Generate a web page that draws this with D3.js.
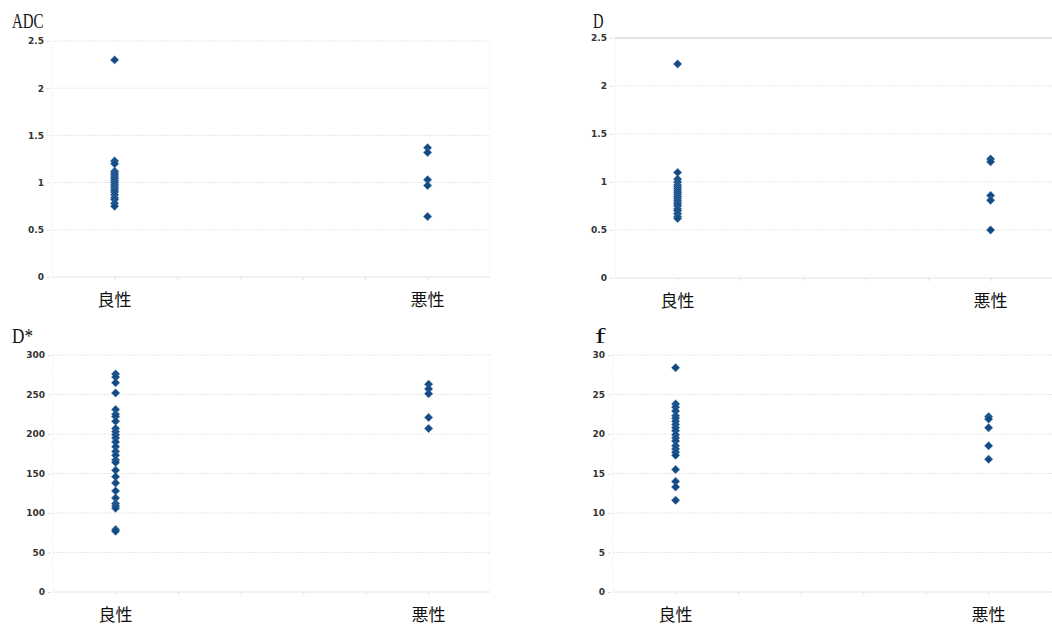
<!DOCTYPE html>
<html>
<head>
<meta charset="utf-8">
<script src="https://cdn.jsdelivr.net/npm/d3@7"></script>
<style>
  html, body { margin: 0; padding: 0; background: #ffffff; }
  svg { display: block; }
</style>
</head>
<body>
<svg id="chart" width="1052" height="627"></svg>
<script>
// ---- data ----
const categories = ["良性", "悪性"];
const panelTitles = ["ADC", "D", "D*", "f"];

const adcBenign = [2.30, 1.23, 1.20, 1.12, 1.10, 1.08, 1.06, 1.04, 1.02, 1.00, 0.98, 0.96, 0.94, 0.92, 0.90, 0.87, 0.84, 0.82, 0.78, 0.75];
const adcMalignant = [1.37, 1.32, 1.03, 0.97, 0.64];

const dBenign = [2.23, 1.10, 1.03, 1.00, 0.97, 0.95, 0.93, 0.91, 0.89, 0.87, 0.85, 0.83, 0.81, 0.79, 0.77, 0.75, 0.72, 0.70, 0.67, 0.64, 0.62];
const dMalignant = [1.24, 1.21, 0.86, 0.81, 0.50];

const dStarBenign = [276, 272, 265, 252, 231, 225, 222, 216, 207, 203, 199, 195, 190, 184, 178, 173, 167, 164, 154, 146, 138, 128, 119, 112, 109, 106, 79, 77];
const dStarMalignant = [263, 257, 251, 221, 207];

const fBenign = [28.4, 23.8, 23.4, 22.9, 22.3, 22.0, 21.6, 21.2, 20.8, 20.4, 19.9, 19.5, 19.1, 18.5, 18.1, 17.7, 17.3, 15.5, 14.0, 13.3, 11.6];
const fMalignant = [22.2, 21.9, 20.8, 18.5, 16.8];

const adcTicks = [0, 0.5, 1, 1.5, 2, 2.5];
const dTicks = [0, 0.5, 1, 1.5, 2, 2.5];
const dStarTicks = [0, 50, 100, 150, 200, 250, 300];
const fTicks = [0, 5, 10, 15, 20, 25, 30];

// category positions on a 0..7 numeric x axis
const categoryX = [1, 6];
const xTicks = [1, 2, 3, 4, 5, 6];

// ---- layout ----
const panels = [
  { title: panelTitles[0], series: [adcBenign, adcMalignant], ticks: adcTicks, yMax: 2.5,
    x0: 52, x1: 490, y0: 41, y1: 277, titleX: 12, titleY: 28, topSolid: false },
  { title: panelTitles[1], series: [dBenign, dMalignant], ticks: dTicks, yMax: 2.5,
    x0: 615, x1: 1055, y0: 38, y1: 278, titleX: 593, titleY: 28, topSolid: true },
  { title: panelTitles[2], series: [dStarBenign, dStarMalignant], ticks: dStarTicks, yMax: 300,
    x0: 53, x1: 490, y0: 355, y1: 592, titleX: 12, titleY: 343, topSolid: false },
  { title: panelTitles[3], series: [fBenign, fMalignant], ticks: fTicks, yMax: 30,
    x0: 613, x1: 1053, y0: 355, y1: 592, titleX: 595, titleY: 343, topSolid: false }
];

const svg = d3.select("#chart");
const markColor = "#134a84";
const diamond = d3.symbol().type(d3.symbolSquare).size(36);

panels.forEach(p => {
  const g = svg.append("g");
  const x = d3.scaleLinear().domain([0, 7]).range([p.x0, p.x0 + 7 * 62.6]);
  const y = d3.scaleLinear().domain([0, p.yMax]).range([p.y1, p.y0]);

  // gridlines
  g.append("g").selectAll("line").data(p.ticks).join("line")
    .attr("x1", p.x0).attr("x2", p.x1)
    .attr("y1", d => y(d)).attr("y2", d => y(d))
    .attr("stroke", d => (p.topSolid && d === p.yMax) ? "#e2e2e2" : "#e8e8e8")
    .attr("stroke-width", d => (p.topSolid && d === p.yMax) ? 2 : 1)
    .attr("stroke-dasharray", d => (p.topSolid && d === p.yMax) ? null : "2,1");

  // plot border (faint dotted verticals)
  g.append("line").attr("x1", p.x0).attr("x2", p.x0).attr("y1", p.y0).attr("y2", p.y1)
    .attr("stroke", "#e8e8e8").attr("stroke-dasharray", "1,2");
  if (p.x1 < 1050) {
    g.append("line").attr("x1", p.x1).attr("x2", p.x1).attr("y1", p.y0).attr("y2", p.y1)
      .attr("stroke", "#e8e8e8").attr("stroke-dasharray", "1,2");
  }

  // y axis labels
  const yAxis = d3.axisLeft(y).tickValues(p.ticks).tickSize(3).tickPadding(3)
    .tickFormat(d => String(d));
  const ya = g.append("g").attr("transform", `translate(${p.x0 - 2},0)`).call(yAxis);
  ya.select(".domain").remove();
  ya.selectAll(".tick line").attr("stroke", "#e0e0e0");
  ya.selectAll(".tick text")
    .attr("font-family", "'DejaVu Sans', sans-serif")
    .attr("font-weight", "bold")
    .attr("font-size", 9)
    .attr("fill", "#333");

  // x axis faint ticks
  const xAxis = d3.axisBottom(x).tickValues(xTicks).tickSize(3).tickFormat("");
  const xa = g.append("g").attr("transform", `translate(0,${p.y1})`).call(xAxis);
  xa.select(".domain").attr("stroke", "#ebebeb").attr("d", `M${p.x0},0H${p.x1}`);
  xa.selectAll(".tick line").attr("stroke", "#e4e4e4");

  // category labels
  g.append("g").selectAll("text").data(categories).join("text")
    .attr("x", (d, i) => x(categoryX[i]))
    .attr("y", p.y1 + 29)
    .attr("text-anchor", "middle")
    .attr("font-family", "'Noto Sans CJK JP', sans-serif")
    .attr("font-size", 17)
    .attr("fill", "#111")
    .text(d => d);

  // title
  g.append("text")
    .attr("x", p.titleX).attr("y", p.titleY)
    .attr("font-family", "'Liberation Serif', serif")
    .attr("font-size", 20)
    .attr("fill", "#111")
    .attr("textLength", p.title.length * 10.5)
    .attr("lengthAdjust", "spacingAndGlyphs")
    .text(p.title);

  // points
  p.series.forEach((vals, si) => {
    g.append("g").selectAll("path").data(vals).join("path")
      .attr("d", diamond)
      .attr("transform", d => `translate(${x(categoryX[si])},${y(d)}) rotate(45)`)
      .attr("fill", markColor)
      .attr("stroke", "#5a88bb")
      .attr("stroke-width", 0.7)
      .attr("stroke-opacity", 0.6);
  });
});
</script>
</body>
</html>
